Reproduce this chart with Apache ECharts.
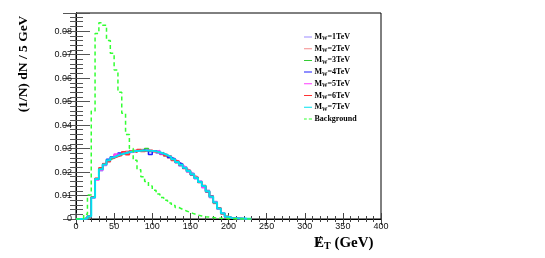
<!DOCTYPE html>
<html><head><meta charset="utf-8">
<script src="https://cdn.jsdelivr.net/npm/echarts@6/dist/echarts.min.js"></script>
<style>html,body{margin:0;padding:0;background:#fff}#c{width:545px;height:258px}</style>
</head><body><div id="c"></div>
<script>
// bin width in GeV; each array lists bin contents starting at 0 GeV
var binWidth = 5;
var seriesNames = ['MW=1TeV','MW=2TeV','MW=3TeV','MW=4TeV','MW=5TeV','MW=6TeV','MW=7TeV','Background'];
var mw1 = [0,0,0.0002,0.0010,0.0090,0.0168,0.0205,0.0228,0.0245,0.0265,0.0274,0.0272,0.0284,0.0280,0.0290,0.0285,0.0295,0.0289,0.0296,0.0286,0.0291,0.0280,0.0283,0.0268,0.0268,0.0250,0.0247,0.0226,0.0222,0.0200,0.0194,0.0171,0.0162,0.0136,0.0122,0.0091,0.0074,0.0042,0.0027,0.0009,0.0005,0.0003,0.0002,0.0001,0.0001,0.0001];
var mw2 = [0,0,0.0004,0.0013,0.0094,0.0172,0.0215,0.0236,0.0247,0.0258,0.0273,0.0279,0.0276,0.0288,0.0283,0.0293,0.0287,0.0296,0.0289,0.0294,0.0284,0.0288,0.0275,0.0276,0.0260,0.0258,0.0239,0.0235,0.0214,0.0208,0.0186,0.0179,0.0154,0.0144,0.0114,0.0099,0.0066,0.0048,0.0021,0.0012,0.0003,0.0002,0.0002,0.0001,0.0001,0];
var mw3 = [0,0,0.0003,0.0011,0.0091,0.0171,0.0213,0.0230,0.0252,0.0260,0.0268,0.0278,0.0282,0.0282,0.0289,0.0287,0.0293,0.0290,0.0300,0.0288,0.0289,0.0282,0.0280,0.0270,0.0265,0.0252,0.0244,0.0229,0.0219,0.0202,0.0191,0.0173,0.0159,0.0138,0.0119,0.0093,0.0071,0.0044,0.0025,0.0011,0.0004,0.0003,0.0002,0.0001,0.0001,0.0001];
var mw4 = [0,0,0.0003,0.0012,0.0093,0.0169,0.0210,0.0234,0.0254,0.0264,0.0268,0.0281,0.0279,0.0286,0.0285,0.0291,0.0289,0.0294,0.0290,0.0275,0.0290,0.0286,0.0277,0.0274,0.0262,0.0256,0.0241,0.0233,0.0216,0.0206,0.0188,0.0177,0.0156,0.0142,0.0116,0.0097,0.0069,0.0046,0.0023,0.0010,0.0004,0.0003,0.0002,0.0002,0.0001,0.0001];
var mw5 = [0,0,0.0002,0.0011,0.0089,0.0166,0.0208,0.0229,0.0248,0.0261,0.0277,0.0274,0.0283,0.0281,0.0286,0.0292,0.0288,0.0291,0.0294,0.0289,0.0286,0.0292,0.0278,0.0271,0.0266,0.0252,0.0245,0.0228,0.0220,0.0201,0.0192,0.0172,0.0160,0.0133,0.0120,0.0092,0.0072,0.0043,0.0026,0.0009,0.0005,0.0002,0.0002,0.0001,0.0001,0.0001];
var mw6 = [0,0,0.0004,0.0014,0.0095,0.0174,0.0218,0.0235,0.0244,0.0259,0.0266,0.0270,0.0286,0.0274,0.0290,0.0284,0.0296,0.0287,0.0293,0.0292,0.0286,0.0283,0.0281,0.0269,0.0267,0.0249,0.0246,0.0229,0.0218,0.0205,0.0189,0.0176,0.0157,0.0141,0.0117,0.0096,0.0068,0.0047,0.0022,0.0011,0.0004,0.0002,0.0002,0.0001,0.0001,0];
var mw7 = [0,0,0.0003,0.0012,0.0092,0.0170,0.0212,0.0232,0.0250,0.0262,0.0270,0.0276,0.0280,0.0284,0.0287,0.0289,0.0291,0.0292,0.0292,0.0290,0.0288,0.0284,0.0279,0.0272,0.0264,0.0254,0.0243,0.0231,0.0218,0.0204,0.0190,0.0175,0.0158,0.0140,0.0118,0.0095,0.0070,0.0045,0.0024,0.0010,0.0004,0.0003,0.0002,0.0002,0.0001,0.0001];
var background = [0,0.0003,0.0020,0.0102,0.0460,0.0790,0.0835,0.0825,0.0760,0.0706,0.0634,0.0540,0.0450,0.0360,0.0300,0.0250,0.0210,0.0180,0.0160,0.0140,0.0122,0.0106,0.0092,0.0080,0.0068,0.0058,0.0049,0.0041,0.0034,0.0028,0.0022,0.0017,0.0013,0.0010,0.0008,0.0006,0.0004,0.0003,0.0002,0.0001,0.0001,0.0001,0,0,0,0];
var xTicks = [0,50,100,150,200,250,300,350,400];
var yTicks = [0,0.01,0.02,0.03,0.04,0.05,0.06,0.07,0.08];

var colors = ['#9c8cff','#f58a8a','#33cc33','#1f1fff','#ff3cff','#ff3333','#00e1f0','#33ff33'];
var allData = [mw1,mw2,mw3,mw4,mw5,mw6,mw7,background];

function hist(arr){
  var pts = [];
  for (var i=0;i<arr.length;i++) pts.push([i*binWidth, arr[i]]);
  pts.push([arr.length*binWidth, arr[arr.length-1]]);
  return pts;
}

var lineIcon = 'path://M0,0L0.01,0L0.01,0.01L0,0.01Z M0,4.4L10,4.4L10,5.6L0,5.6Z M9.99,9.99L10,9.99L10,10L9.99,10Z';
var dashIcon = 'path://M0,0L0.01,0L0.01,0.01L0,0.01Z M0,4.4L3.5,4.4L3.5,5.6L0,5.6Z M6,4.4L10,4.4L10,5.6L6,5.6Z M9.99,9.99L10,9.99L10,10L9.99,10Z';

var series = allData.map(function(arr, k){
  var bg = k === 7;
  return {
    name: seriesNames[k], type:'line', step:'end', symbol:'none',
    data: hist(arr), xAxisIndex:0, yAxisIndex:0,
    lineStyle:{color:colors[k], width: bg?1.5:(k===6?2:1.5), type: bg?[4,3]:'solid'},
    itemStyle:{color:colors[k]},
    z: bg?3:2+k*0.01, animation:false
  };
});

var chart = echarts.init(document.getElementById('c'), null, {renderer:'canvas'});
var font = 'Liberation Sans';
var serif = 'Liberation Serif';
chart.setOption({
  animation:false,
  backgroundColor:'#fff',
  grid:{left:76, right:164, top:13, bottom:39, show:true, borderColor:'#000', borderWidth:1, backgroundColor:'transparent'},
  xAxis:[{
    type:'value', min:xTicks[0], max:xTicks[xTicks.length-1], interval:50, position:'bottom',
    axisLine:{show:true, lineStyle:{color:'#000', width:1}},
    axisTick:{show:true, inside:true, length:6, lineStyle:{color:'#444'}},
    minorTick:{show:true, splitNumber:5, length:3, lineStyle:{color:'#444'}},
    axisLabel:{fontFamily:font, fontSize:9, color:'#111', margin:3},
    splitLine:{show:false}
  },{
    type:'value', min:0, max:400, interval:50, position:'top',
    axisLine:{show:true, lineStyle:{color:'#000'}},
    axisTick:{show:true, inside:true, length:6, lineStyle:{color:'#444'}},
    minorTick:{show:true, splitNumber:5, length:3, lineStyle:{color:'#444'}},
    axisLabel:{show:false}, splitLine:{show:false}
  }],
  yAxis:[{
    type:'value', min:0, max:0.0877, interval:0.01, position:'left',
    axisLine:{show:true, lineStyle:{color:'#000'}},
    axisTick:{show:true, inside:true, length:14, lineStyle:{color:'#555'}},
    minorTick:{show:true, splitNumber:5, length:7, lineStyle:{color:'#555'}},
    axisLabel:{fontFamily:font, fontSize:9, color:'#111', margin:4, showMaxLabel:false,
      formatter:function(v){ return v===0 ? '0' : v.toFixed(2); }},
    splitLine:{show:false}
  },{
    type:'value', min:0, max:0.0877, interval:0.01, position:'right',
    axisLine:{show:true, lineStyle:{color:'#000'}},
    axisTick:{show:true, inside:true, length:13, lineStyle:{color:'#555'}},
    minorTick:{show:true, splitNumber:5, length:6, lineStyle:{color:'#555'}},
    axisLabel:{show:false}, splitLine:{show:false}
  }],
  legend:{
    orient:'vertical', left:299, top:28, itemWidth:11, itemHeight:8, itemGap:2.7,
    data: seriesNames.map(function(n, k){ return {name:n, icon: k===7 ? dashIcon : lineIcon}; }),
    formatter:function(n){
      if (n.indexOf('MW=')===0) return '{m|M}{s|W}{m|'+n.slice(2)+'}';
      return '{m|'+n+'}';
    },
    textStyle:{fontFamily:serif, fontWeight:'bold', fontSize:8, color:'#000', padding:[0,0,0,-4],
      rich:{m:{fontFamily:serif, fontWeight:'bold', fontSize:8, color:'#000'},
            s:{fontFamily:serif, fontWeight:'bold', fontSize:5.5, color:'#000', verticalAlign:'bottom', padding:[4,0,0,0]}}}
  },
  graphic:[
    {type:'text', x:24, y:64, rotation:Math.PI/2,
     style:{text:'(1/N) dN / 5 GeV', fontFamily:serif, fontWeight:'bold', fontSize:13.5, fill:'#000', textAlign:'center', textVerticalAlign:'middle'}},
    {type:'text', x:314, y:243,
     style:{text:'{e|E}{t|T}{g| (GeV)}', textVerticalAlign:'middle',
       rich:{e:{fontFamily:serif, fontWeight:'bold', fontSize:15, fill:'#000'},
             t:{fontFamily:serif, fontWeight:'bold', fontSize:10, fill:'#000', padding:[6,0,0,0]},
             g:{fontFamily:serif, fontWeight:'bold', fontSize:15, fill:'#000'}}}},
    {type:'text', x:319, y:242,
     style:{text:'/', fontFamily:serif, fontWeight:'bold', fontSize:15, fill:'#000', textAlign:'center', textVerticalAlign:'middle'}}
  ],
  series: series
});
</script></body></html>
